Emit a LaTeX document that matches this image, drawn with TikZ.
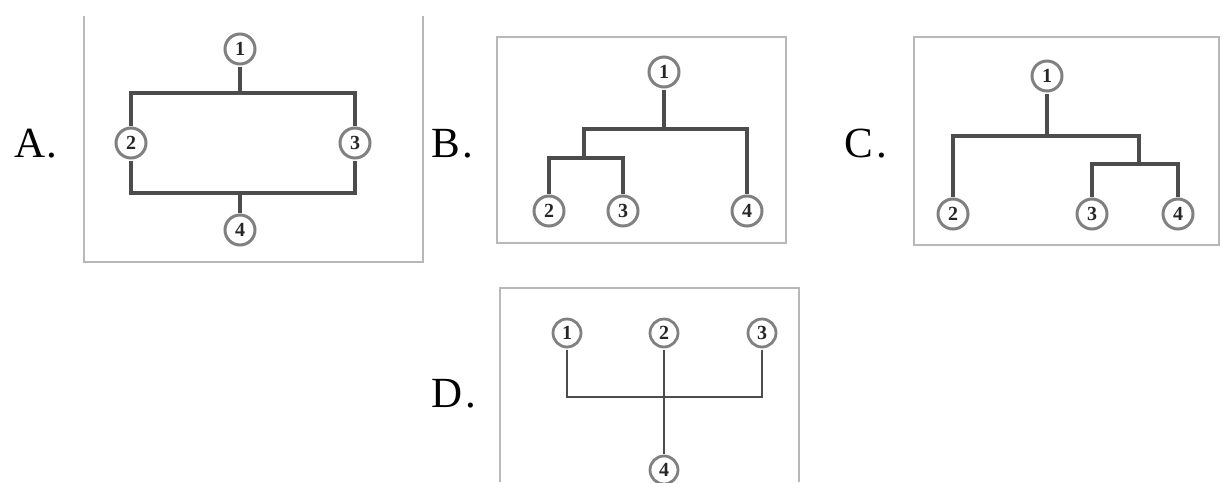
\documentclass[tikz,border=0pt]{standalone}
\usepackage{fontspec}
\setmainfont{Liberation Serif}
\begin{document}
\begin{tikzpicture}[x=1pt,y=-1pt,
  cn/.style={circle, draw=black!50, line width=3pt, minimum size=30pt, inner sep=0pt,
    outer sep=2.5pt, text=black!85, font=\fontsize{20}{20}\selectfont\bfseries},
  cnd/.style={cn, minimum size=28pt, line width=2.8pt},
  ln/.style={draw=black!70, line width=3.4pt},
  lnd/.style={draw=black!70, line width=2.6pt},
  frame/.style={draw=black!28, line width=1.3pt},
  lab/.style={anchor=base west, inner sep=0pt, font=\fontsize{43}{43}\selectfont}]
\useasboundingbox (0,0) rectangle (1223,482);
% frames
\draw[frame] (84,16) -- (84,262) -- (423,262) -- (423,16);
\draw[frame] (497,37) rectangle (786,243);
\draw[frame] (914,37) rectangle (1219,245);
\draw[frame] (500,482) -- (500,288) -- (799,288) -- (799,482);
% labels
\node[lab] (la) at (14,157) {A\kern1pt.};
\node[lab] (lb) at (431,157) {B\kern3pt.};
\node[lab] (lc) at (844,157) {C\kern4pt.};
\node[lab] (ld) at (431,407) {D\kern3pt.};
% Panel A
\node[cn] (a1) at (240,49) {1};
\node[cn] (a2) at (131,143) {2};
\node[cn] (a3) at (355,143) {3};
\node[cn] (a4) at (240,230) {4};
\coordinate (aT) at (240,93);
\coordinate (aB) at (240,193);
\draw[ln] (a1) -- (aT);
\draw[ln] (a2) |- (aT) -| (a3);
\draw[ln] (a2) |- (aB) -| (a3);
\draw[ln] (aB) -- (a4);
% Panel B
\node[cn] (b1) at (664,72) {1};
\node[cn] (b2) at (549,211) {2};
\node[cn] (b3) at (623,211) {3};
\node[cn] (b4) at (747,211) {4};
\coordinate (bT) at (664,129);
\coordinate (bM) at (584,158);
\draw[ln] (b1) -- (bT);
\draw[ln] (bM) |- (bT) -| (b4);
\draw[ln] (b2) |- (bM) -| (b3);
% Panel C
\node[cn] (c1) at (1047,76) {1};
\node[cn] (c2) at (953,214) {2};
\node[cn] (c3) at (1092,214) {3};
\node[cn] (c4) at (1178,214) {4};
\coordinate (cT) at (1047,136);
\coordinate (cM) at (1139,164);
\draw[ln] (c1) -- (cT);
\draw[ln] (c2) |- (cT) -| (cM);
\draw[ln] (c3) |- (cM) -| (c4);
% Panel D
\node[cnd] (d1) at (567,333) {1};
\node[cnd] (d2) at (664,333) {2};
\node[cnd] (d3) at (762,333) {3};
\node[cnd] (d4) at (664,470) {4};
\coordinate (dJ) at (664,397);
\draw[lnd] (d1) |- (dJ) -| (d3);
\draw[lnd] (d2) -- (d4);
\end{tikzpicture}
\end{document}
